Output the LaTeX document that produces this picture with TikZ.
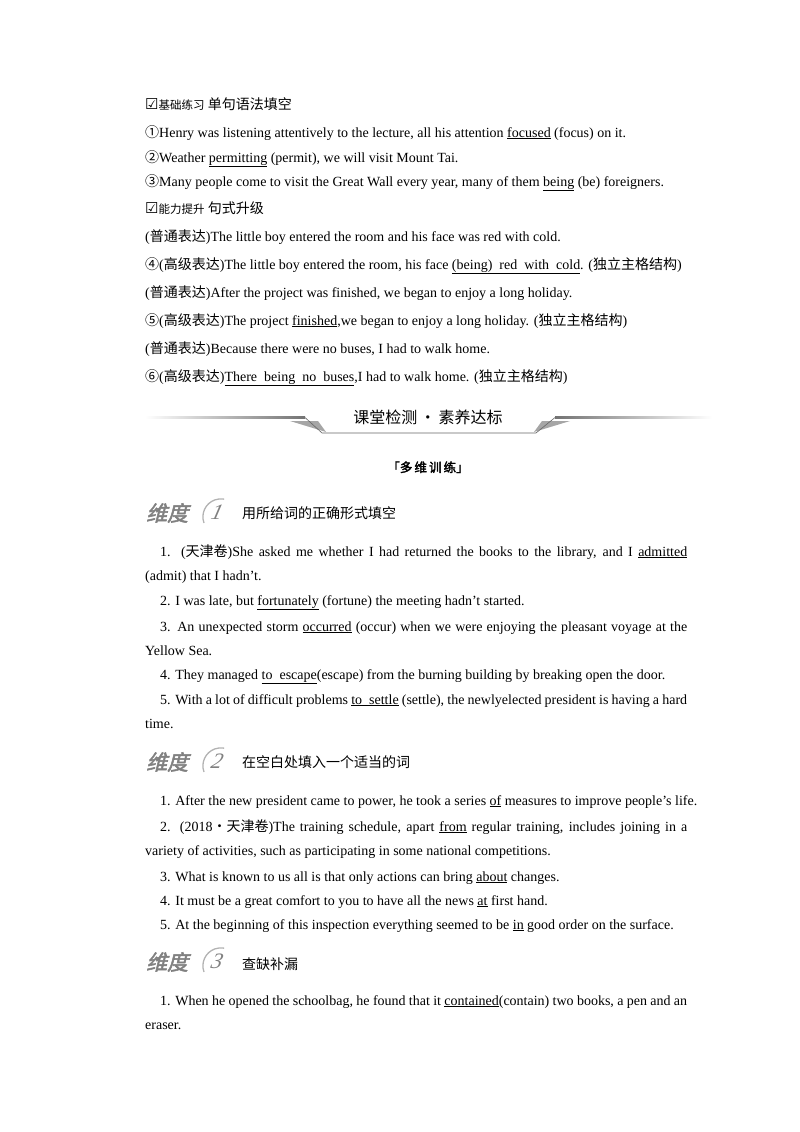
\documentclass[tikz,border=0pt]{standalone}
\usepackage{fontspec}
\setmainfont{Liberation Serif}
\newfontfamily\cjk{Noto Sans CJK SC}
\newfontfamily\cjkb{Noto Sans CJK SC}[FakeBold=2.5]
\newfontfamily\djvu{DejaVu Sans}
\newcommand{\Ul}[1]{\underline{#1}}
\newcommand{\Cj}[1]{{\cjk #1}}
\begin{document}
\begin{tikzpicture}[x=1pt,y=-1pt,
  txt/.style={anchor=base west,inner sep=0pt,font=\fontsize{14}{16}\selectfont},
  para/.style={anchor=base west,inner sep=0pt,text width=542pt,align=justify,font=\fontsize{14}{24.5}\selectfont},
  hd/.style={anchor=base west,inner sep=0pt,font=\fontsize{14}{16}\selectfont\cjk},
  dim/.style={anchor=base west,inner sep=0pt,font=\fontsize{21}{21}\selectfont\cjkb,text=black!50,xslant=0.25}]
\useasboundingbox (0,0) rectangle (800,1132);
% top section
\node[hd] (h1) at (145,109) {{\djvu\fontsize{15}{15}\selectfont ☑}{\fontsize{11.5}{12}\selectfont 基础练习} 单句语法填空};
\node[txt] (l1) at (145,137) {\Cj{①}Henry was listening attentively to the lecture, all his attention \Ul{focused} (focus) on it.};
\node[txt] (l2) at (145,162) {\Cj{②}Weather \Ul{permitting} (permit), we will visit Mount Tai.};
\node[txt] (l3) at (145,186) {\Cj{③}Many people come to visit the Great Wall every year, many of them \Ul{being} (be) foreigners.};
\node[hd] (h2) at (145,213) {{\djvu\fontsize{15}{15}\selectfont ☑}{\fontsize{11.5}{12}\selectfont 能力提升} 句式升级};
\node[txt] (l4) at (145,241) {(\Cj{普通表达})The little boy entered the room and his face was red with cold.};
\node[txt] (l5) at (145,269) {\Cj{④}(\Cj{高级表达})The little boy entered the room, his face \Ul{(being)\ \ red\ \ with\ \ cold}. (\Cj{独立主格结构})};
\node[txt] (l6) at (145,297) {(\Cj{普通表达})After the project was finished, we began to enjoy a long holiday.};
\node[txt] (l7) at (145,325) {\Cj{⑤}(\Cj{高级表达})The project \Ul{finished},we began to enjoy a long holiday. (\Cj{独立主格结构})};
\node[txt] (l8) at (145,353) {(\Cj{普通表达})Because there were no buses, I had to walk home.};
\node[txt] (l9) at (145,381) {\Cj{⑥}(\Cj{高级表达})\Ul{There\ \ being\ \ no\ \ buses},I had to walk home. (\Cj{独立主格结构})};
% banner
\shade[left color=white,right color=black!55] (145,416.5) rectangle (305,418.5);
\shade[left color=black!55,right color=white] (555,416.5) rectangle (712,418.5);
\fill[black!35] (290,421) -- (318,421) -- (326,432) -- cycle;
\fill[black!35] (570,421) -- (542,421) -- (534,432) -- cycle;
\draw[black!60,line width=0.6pt] (305,417.5) -- (322,433) -- (536,433) -- (555,417.5);
\node[anchor=base,inner sep=0pt,font=\fontsize{16}{16}\selectfont\cjk] (ban) at (428,423) {课堂检测\,·\,素养达标};
\node[anchor=base,inner sep=0pt,font=\fontsize{12.5}{14}\selectfont\cjkb] (dw) at (428,472) {「多\,维\,训\,练」};
% dimension 1
\node[dim] (d1) at (146,521) {维度};
\draw[black!30,line width=1.3pt] (204,523) arc[start angle=160,end angle=280,radius=18];
\node[dim,font=\fontsize{22}{22}\selectfont\itshape] (n1) at (210,519) {1};
\node[hd] (t1) at (242,518) {用所给词的正确形式填空};
\node[para] (p1) at (145,556) {\hspace*{15pt}1. (\Cj{天津卷})She asked me whether I had returned the books to the library, and I \Ul{admitted}\linebreak (admit) that I hadn't.};
\node[txt] (p2) at (160,605) {2. I was late, but \Ul{fortunately} (fortune) the meeting hadn't started.};
\node[para] (p3) at (145,631) {\hspace*{15pt}3. An unexpected storm \Ul{occurred} (occur) when we were enjoying the pleasant voyage at the\linebreak Yellow Sea.};
\node[txt] (p4) at (160,679) {4. They managed \Ul{to\ \ escape}(escape) from the burning building by breaking open the door.};
\node[para] (p5) at (145,704) {\hspace*{15pt}5. With a lot of difficult problems \Ul{to\ \ settle} (settle), the newlyelected president is having a hard\linebreak time.};
% dimension 2
\node[dim] (d2) at (146,770) {维度};
\draw[black!30,line width=1.3pt] (204,772) arc[start angle=160,end angle=280,radius=18];
\node[dim,font=\fontsize{22}{22}\selectfont\itshape] (n2) at (210,768) {2};
\node[hd] (t2) at (242,767) {在空白处填入一个适当的词};
\node[txt] (q1) at (160,805) {1. After the new president came to power, he took a series \Ul{of} measures to improve people's life.};
\node[para] (q2) at (145,831) {\hspace*{15pt}2. (2018\Cj{·天津卷})The training schedule, apart \Ul{from} regular training, includes joining in a\linebreak variety of activities, such as participating in some national competitions.};
\node[txt] (q3) at (160,881) {3. What is known to us all is that only actions can bring \Ul{about} changes.};
\node[txt] (q4) at (160,905) {4. It must be a great comfort to you to have all the news \Ul{at} first hand.};
\node[txt] (q5) at (160,929) {5. At the beginning of this inspection everything seemed to be \Ul{in} good order on the surface.};
% dimension 3
\node[dim] (d3) at (146,970) {维度};
\draw[black!30,line width=1.3pt] (204,972) arc[start angle=160,end angle=280,radius=18];
\node[dim,font=\fontsize{22}{22}\selectfont\itshape] (n3) at (210,968) {3};
\node[hd] (t3) at (242,969) {查缺补漏};
\node[para] (r1) at (145,1005) {\hspace*{15pt}1. When he opened the schoolbag, he found that it \Ul{contained}(contain) two books, a pen and an\linebreak eraser.};
\end{tikzpicture}
\end{document}
